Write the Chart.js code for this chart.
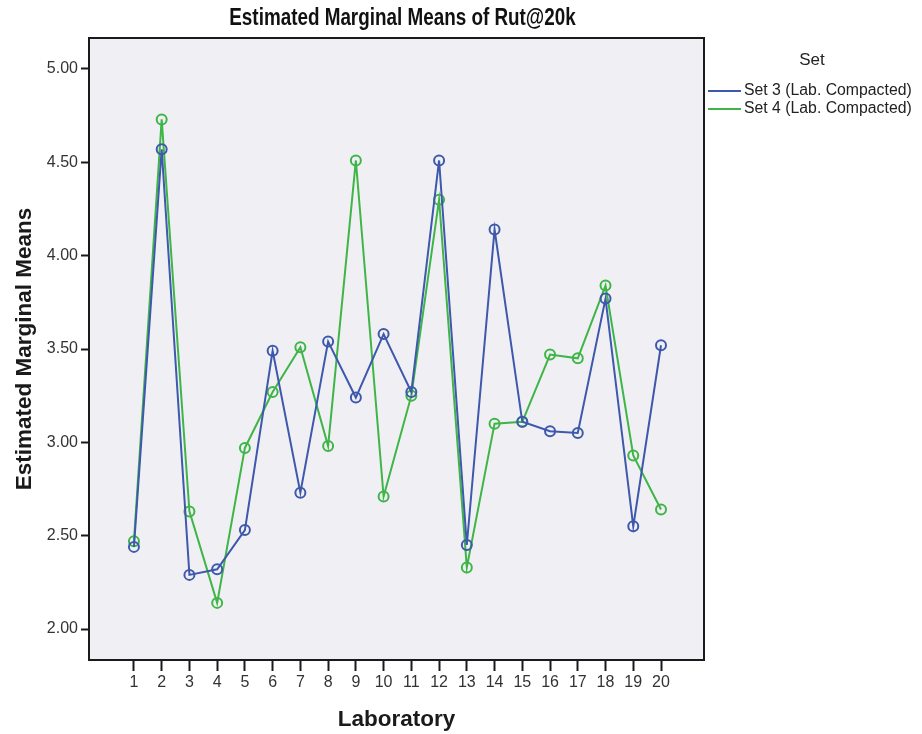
<!DOCTYPE html>
<html>
<head>
<meta charset="utf-8">
<script src="https://cdn.jsdelivr.net/npm/chart.js@4/dist/chart.umd.min.js"></script>
<style>
    html, body { margin: 0; padding: 0; background: #ffffff; }
    #wrap { width: 922px; height: 734px; }
</style>
</head>
<body>
<div id="wrap"><canvas id="emmChart" width="922" height="734"></canvas></div>
<script>
// DATA
const chartTitle = "Estimated Marginal Means of Rut@20k";
const legendTitle = "Set";
const labs = [1, 2, 3, 4, 5, 6, 7, 8, 9, 10, 11, 12, 13, 14, 15, 16, 17, 18, 19, 20];
const set3Name = "Set 3 (Lab. Compacted)";
const set3Values = [2.44, 4.57, 2.29, 2.32, 2.53, 3.49, 2.73, 3.54, 3.24, 3.58,
                    3.27, 4.51, 2.45, 4.14, 3.11, 3.06, 3.05, 3.77, 2.55, 3.52];
const set4Name = "Set 4 (Lab. Compacted)";
const set4Values = [2.47, 4.73, 2.63, 2.14, 2.97, 3.27, 3.51, 2.98, 4.51, 2.71,
                    3.25, 4.30, 2.33, 3.10, 3.11, 3.47, 3.45, 3.84, 2.93, 2.64];
const yTicks = [2.0, 2.5, 3.0, 3.5, 4.0, 4.5, 5.0];
const xTicks = labs;

const BLUE = "#3e58ac";
const GREEN = "#3fb548";
const FONT = "'Liberation Sans', Arial, sans-serif";

function toPoints(values) {
    return labs.map((lab, i) => ({ x: lab, y: values[i] }));
}

// PLOT BACKGROUND, FRAME, TITLE AND LEGEND
const framePlugin = {
    id: "framePlugin",

    beforeDatasetsDraw(chart) {
        const ctx = chart.ctx;
        const a = chart.chartArea;
        ctx.save();
        ctx.fillStyle = "#f0f0f4";
        ctx.fillRect(a.left, a.top, a.right - a.left, a.bottom - a.top);
        ctx.restore();
    },

    afterDraw(chart) {
        const ctx = chart.ctx;
        const a = chart.chartArea;

        ctx.save();
        ctx.strokeStyle = "#1a1a1a";
        ctx.lineWidth = 2;
        ctx.strokeRect(a.left, a.top, a.right - a.left, a.bottom - a.top);

        // title, narrow bold
        ctx.save();
        ctx.fillStyle = "#111";
        ctx.font = "bold 23px " + FONT;
        ctx.textAlign = "center";
        ctx.textBaseline = "middle";
        ctx.translate((a.left + a.right) / 2 + 6, 19);
        ctx.scale(0.82, 1);
        ctx.fillText(chartTitle, 0, 0);
        ctx.restore();

        // legend
        ctx.textAlign = "center";
        ctx.textBaseline = "middle";
        ctx.font = "17px " + FONT;
        ctx.fillStyle = "#222";
        ctx.fillText(legendTitle, 812, 60);

        ctx.textAlign = "left";
        ctx.font = "15.8px " + FONT;
        chart.data.datasets.forEach((ds, i) => {
            const y = 91 + i * 18;
            ctx.strokeStyle = ds.borderColor;
            ctx.lineWidth = 2;
            ctx.beginPath();
            ctx.moveTo(708, y);
            ctx.lineTo(741, y);
            ctx.stroke();
            ctx.fillStyle = "#222";
            ctx.fillText(ds.label, 744, y);
        });
        ctx.restore();
    }
};

const ctx = document.getElementById("emmChart");

new Chart(ctx, {
    type: "line",

    data: {
        datasets: [
            {
                label: set3Name,
                data: toPoints(set3Values),
                borderColor: BLUE,
                backgroundColor: BLUE,
                borderWidth: 2,
                pointRadius: 5,
                pointBorderWidth: 2,
                pointBorderColor: BLUE,
                pointBackgroundColor: "rgba(0,0,0,0)",
                tension: 0
            },
            {
                label: set4Name,
                data: toPoints(set4Values),
                borderColor: GREEN,
                backgroundColor: GREEN,
                borderWidth: 2,
                pointRadius: 5,
                pointBorderWidth: 2,
                pointBorderColor: GREEN,
                pointBackgroundColor: "rgba(0,0,0,0)",
                tension: 0
            }
        ]
    },

    options: {
        responsive: false,
        animation: false,

        layout: {
            padding: { top: 38, right: 218, left: 0, bottom: 0 }
        },

        plugins: {
            legend: { display: false },
            title: { display: false },
            tooltip: { enabled: false }
        },

        scales: {
            x: {
                type: "linear",
                min: -0.62,
                max: 21.55,
                afterFit(scale) { scale.height = 74; },
                afterBuildTicks(scale) {
                    scale.ticks = xTicks.map(v => ({ value: v }));
                },
                ticks: {
                    color: "#333",
                    font: { family: FONT, size: 16 },
                    padding: 2,
                    maxRotation: 0,
                    autoSkip: false
                },
                grid: {
                    drawOnChartArea: false,
                    drawTicks: true,
                    tickLength: 11,
                    tickWidth: 2,
                    tickColor: "#1a1a1a"
                },
                border: { display: false },
                title: {
                    display: true,
                    text: "Laboratory",
                    color: "#1a1a1a",
                    font: { family: FONT, size: 22.5, weight: "bold" },
                    padding: { top: 0, bottom: 1 }
                }
            },

            y: {
                min: 1.834,
                max: 5.166,
                afterFit(scale) { scale.width = 89; },
                afterBuildTicks(scale) {
                    scale.ticks = yTicks.map(v => ({ value: v }));
                },
                ticks: {
                    color: "#333",
                    font: { family: FONT, size: 16 },
                    padding: 3,
                    callback: (v) => Number(v).toFixed(2)
                },
                grid: {
                    drawOnChartArea: false,
                    drawTicks: true,
                    tickLength: 8,
                    tickWidth: 2,
                    tickColor: "#1a1a1a"
                },
                border: { display: false },
                title: {
                    display: true,
                    text: "Estimated Marginal Means",
                    color: "#1a1a1a",
                    font: { family: FONT, size: 22.5, weight: "bold" },
                    padding: { top: 11, bottom: 0 }
                }
            }
        }
    },

    plugins: [framePlugin]
});
</script>
</body>
</html>
